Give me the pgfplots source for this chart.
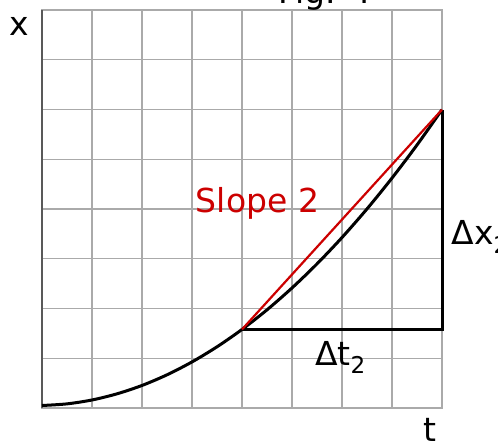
\documentclass[border=0pt]{standalone}
\usepackage{pgfplots}
\pgfplotsset{compat=1.18}
\usepackage{fontspec}
\setmainfont{DejaVu Sans}
\definecolor{slopered}{RGB}{204,0,0}
\definecolor{gridgray}{RGB}{170,170,170}
\begin{document}
\begin{tikzpicture}
\path[use as bounding box] (-42pt,-36pt) rectangle (456pt,408pt);
\begin{axis}[
  at={(0pt,0pt)}, anchor=south west,
  scale only axis,
  width=400pt, height=398pt,
  xmin=0, xmax=8, ymin=0, ymax=8,
  xtick={0,...,8}, ytick={0,...,8},
  xticklabels={}, yticklabels={},
  major tick length=0pt,
  grid=major,
  grid style={gridgray, line width=1.3pt},
  axis line style={gridgray, line width=1.6pt},
  clip=false,
]
% dark left axis
\draw[black!65, line width=2pt] (axis cs:0,0) -- (axis cs:0,8);

% position curve x(t)
\addplot[black, line width=3pt, smooth] coordinates {
  (0,0.050) (0.5,0.083) (1,0.161) (1.5,0.285) (2,0.453) (2.5,0.667)
  (3,0.926) (3.5,1.230) (4,1.579) (4.5,1.973) (5,2.413) (5.5,2.897)
  (6,3.427) (6.5,4.002) (7,4.622) (7.5,5.287) (8,5.997)
};

% slope triangle
\addplot[black, line width=3pt] coordinates {(4,1.579) (8,1.579) (8,5.997)};

% secant line
\addplot[slopered, line width=2.2pt] coordinates {(4,1.579) (8,5.997)};

\node[overlay, anchor=base, slopered, font=\fontsize{33}{38}\selectfont] at (axis cs:4.31,3.93) {Slope 2};
\node[overlay, anchor=base west, font=\fontsize{33}{38}\selectfont] at (axis cs:8.12,3.28) {Δx\textsubscript{2}};
\node[overlay, anchor=base, font=\fontsize{33}{38}\selectfont] at (axis cs:5.97,0.86) {Δt\textsubscript{2}};
\node[overlay, font=\fontsize{33}{38}\selectfont] at (axis cs:-0.46,7.67) {x};
\node[overlay, font=\fontsize{33}{38}\selectfont] at (axis cs:7.76,-0.45) {t};
\node[overlay, anchor=base, font=\fontsize{33}{38}\selectfont] at (axis cs:5.66,8.14) {Fig. 4};
\end{axis}
\end{tikzpicture}
\end{document}
